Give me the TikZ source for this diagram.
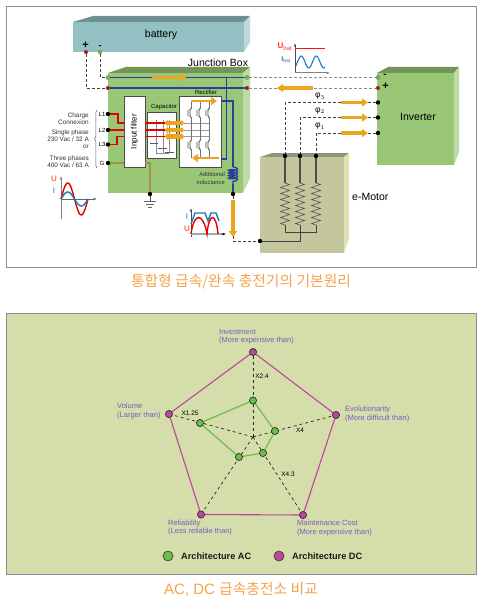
\documentclass[tikz,border=0pt]{standalone}
\usepackage{fontspec}
\setmainfont{Liberation Sans}
\newfontfamily\krfont{Noto Sans CJK KR}
\usetikzlibrary{arrows.meta,decorations.pathmorphing,decorations.pathreplacing}
\definecolor{busblue}{HTML}{27409A}
\definecolor{sigorange}{HTML}{EBA520}
\definecolor{capt}{HTML}{F7A24B}
\definecolor{labpurple}{HTML}{7A5CC0}
\definecolor{dcpink}{HTML}{B9479B}
\definecolor{acgreen}{HTML}{6CBE45}
\definecolor{jgreen}{HTML}{9AC776}
\definecolor{battcol}{HTML}{93C0C2}
\definecolor{motorcol}{HTML}{C4C69E}
\definecolor{motorside}{HTML}{E0E2B4}
\definecolor{panel}{HTML}{D5DDAB}
\begin{document}
\begin{tikzpicture}[x=1pt,y=-1pt,
  every node/.style={inner sep=0pt},
  tinylab/.style={font=\fontsize{6}{7}\selectfont},
  smalllab/.style={font=\fontsize{6.4}{7.2}\selectfont,align=right,anchor=east,text=black!80},
  axislab/.style={font=\fontsize{7.5}{8.5}\selectfont,align=left,anchor=north west,text=labpurple},
  multlab/.style={font=\fontsize{6.5}{7.5}\selectfont},
  dot/.style={circle,fill=black,minimum size=4.4pt},
  plusdot/.style={circle,fill=red!75!black,draw=black!50,minimum size=4pt},
  minusdot/.style={circle,fill=acgreen,draw=black!50,minimum size=4pt},
  bus/.style={busblue,line width=1.3pt},
  link/.style={densely dashed,black!75,line width=0.6pt},
  fatarrow/.style={sigorange,line width=3.2pt,-{Triangle[length=6pt,width=8pt]}},
  bothfat/.style={sigorange,line width=4.4pt,{Triangle[length=2.5pt,width=7pt]}-{Triangle[length=2.5pt,width=7pt]}},
  mains/.style={red!90!black,line width=1.6pt},
  plate/.style={black!65,line width=1pt},
  whitebox/.style={draw=black!70,fill=white,line width=0.7pt},
  acpt/.style={circle,draw=black!80,fill=acgreen,minimum size=7pt,line width=0.6pt},
  dcpt/.style={circle,draw=black!80,fill=dcpink,minimum size=7pt,line width=0.6pt},
  capttext/.style={font=\krfont\fontsize{14.8}{16}\selectfont,text=capt}]
\useasboundingbox (0,0) rectangle (482,607);
\fill[white] (0,0) rectangle (482,607);
\draw[black!45,line width=0.8pt] (6,6) rectangle (476,267);
\node[draw=black!45,line width=0.8pt,fill=panel,minimum width=470pt,minimum height=261pt] (panel2) at (241,443.5) {};

% solids
\fill[battcol!75!black] (73,22) -- (93,16) -- (250,16) -- (244,22) -- cycle;
\fill[battcol!60!white] (244,22) -- (250,16) -- (250,42) -- (244,52) -- cycle;
\node[fill=battcol,minimum width=171pt,minimum height=30pt] (batt) at (158.5,37) {};
\node[font=\fontsize{10.5}{12}\selectfont] at (161,35) {battery};
\fill[jgreen!75!black] (108,73) -- (126,67) -- (250,67) -- (243,73) -- cycle;
\fill[jgreen!65!white] (243,73) -- (250,67) -- (250,178) -- (243,193) -- cycle;
\node[fill=jgreen,minimum width=135pt,minimum height=120pt] (jbox) at (175.5,133) {};
\node[font=\fontsize{10.5}{12}\selectfont] (jlab) at (218,63) {Junction Box};
\fill[jgreen!75!black] (377,73) -- (388,67) -- (459,67) -- (454,73) -- cycle;
\fill[jgreen!65!white] (454,73) -- (459,67) -- (459,152) -- (454,165) -- cycle;
\node[fill=jgreen,minimum width=77pt,minimum height=92pt] (inv) at (415.5,119) {};
\node[font=\fontsize{10.5}{12}\selectfont] at (418,117) {Inverter};
\fill[motorcol!75!black] (260,157) -- (272,153) -- (349,153) -- (344,157) -- cycle;
\fill[motorside] (344,157) -- (349,153) -- (349,238) -- (344,253) -- cycle;
\node[fill=motorcol,minimum width=84pt,minimum height=96pt] (motor) at (302,205) {};
\node[anchor=west,font=\fontsize{10.5}{12}\selectfont] (mlab) at (352,197) {e-Motor};

% terminals
\node[plusdot] (batp) at (86,52) {};
\node[minusdot] (batm) at (100,52) {};
\node[font=\bfseries\fontsize{11}{10}\selectfont] at (85.5,45.5) {+};
\node[font=\bfseries\fontsize{9}{9}\selectfont] at (100,47.5) {-};
\node[minusdot] (ja) at (108,77.5) {};
\node[plusdot] (jb) at (108,88) {};
\node[minusdot] (jc) at (247,77.5) {};
\node[plusdot] (jd) at (247,88) {};
\node[minusdot] (ia) at (378,77.5) {};
\node[plusdot] (ib) at (378,88) {};
\node[font=\bfseries\fontsize{10}{10}\selectfont] at (385,75.5) {-};
\node[font=\bfseries\fontsize{11}{10}\selectfont] at (385.5,86.5) {+};
\node[dot] (ph3) at (378,102.5) {};
\node[dot] (ph2) at (378,117.5) {};
\node[dot] (ph1) at (378,133) {};
\node[dot] (m1) at (285,156) {};
\node[dot] (m2) at (300,156) {};
\node[dot] (m3) at (316,156) {};
\node[dot] (mn) at (260,241) {};
\node[dot] (lout) at (233,194) {};
\node[dot] (gnd) at (150,194) {};
\draw[link] (batm) |- (ja);
\draw[link] (batp) |- (jb);
\draw[link,black!45] (jc) -- (ia);
\draw[link,black!45] (jd) -- (ib);
\draw[link] (ph3) -| (m1);
\draw[link] (ph2) -| (m2);
\draw[link] (ph1) -| (m3);
\draw[link] (lout) |- (mn);
\draw[bus] (ja) -- (jc);
\draw[bus] (jb) -- (jd);
\draw[fatarrow] (152,77.5) -- (186,77.5);
\draw[fatarrow] (313,88) -- (277,88);
\draw[fatarrow] (341,102.5) -- (368,102.5);
\draw[fatarrow] (341,117.5) -- (368,117.5);
\draw[fatarrow] (341,133) -- (368,133);
\draw[fatarrow] (233,200) -- (233,237);
\node[font=\fontsize{8.5}{9}\selectfont] at (320,96.5) {φ$_3$};
\node[font=\fontsize{8.5}{9}\selectfont] at (320,111) {φ$_2$};
\node[font=\fontsize{8.5}{9}\selectfont] at (320,126.5) {φ$_1$};

% charger
\node[whitebox,minimum width=21pt,minimum height=71pt] (filt) at (134.5,131.5) {};
\node[rotate=90,font=\fontsize{8}{9}\selectfont] at (134.5,131.5) {Input filter};
\node[whitebox,minimum width=29pt,minimum height=46pt] (capb) at (161.5,135) {};
\node[tinylab] at (164,106.5) {Capacitor};
\node[whitebox,minimum width=42pt,minimum height=71pt] (rect) at (200,131.5) {};
\node[tinylab] at (206,92) {Rectifier};
\node[dot] (L1) at (108,114) {};
\node[dot] (L2) at (108,130) {};
\node[dot] (L3) at (108,144.5) {};
\node[dot] (G) at (108,163) {};
\node[tinylab] at (102,114.5) {L1};
\node[tinylab] at (102,130) {L2};
\node[tinylab] at (102,144.5) {L3};
\node[tinylab] at (102,163) {G};
\draw[decorate,decoration={brace,amplitude=2.5pt},black!60,line width=0.5pt] (97,168) -- (97,110);
\node[smalllab] at (89,118.5) {Charge\\Connexion};
\node[smalllab] at (89,135.5) {Single phase\\230 Vac / 32 A};
\node[smalllab] at (89,147) {or};
\node[smalllab] at (89,161.5) {Three phases\\400 Vac / 63 A};
\draw[mains] (L1) -- (118,114) |- (124,123);
\draw[mains] (L2) -- (124,130);
\draw[mains] (L3) -- (117,144.5) |- (124,136.5);
\draw[black!50!yellow!70!brown,line width=1.2pt] (G) -- (filt.south west |- G);
\draw[black!50!yellow!70!brown,line width=1.2pt] (filt.south east |- G) -| (gnd);
\draw[black!70,line width=0.7pt] (gnd) -- (150,201);
\foreach \y/\w in {201/6,204/4,207/2} \draw[black!60,line width=0.9pt] (150-\w,\y) -- (150+\w,\y);
% capacitor and rectifier innards
\foreach \x in {156,163,169} \draw[black!45,line width=0.6pt] (\x,120) -- (\x,153);
\draw[black!45,line width=0.6pt] (156,153) -- (169,153);
\draw[plate] (150,143) -- (158,143);
\draw[plate] (158,148) -- (167,148);
\draw[plate] (165,152) -- (174,152);
\foreach \y in {123,130,136.5} {
  \draw[red!90!black,line width=1.2pt] (filt.east |- 0,\y) -- (166,\y);
  \draw[black!40,line width=0.6pt] (184,\y) -- (209,\y);
  \draw[bothfat] (165,\y) -- (184,\y);
}
\foreach \x in {191,200,209} {
  \draw[black!55,line width=0.6pt] (\x,101) -- (\x,158);
  \foreach \y in {113,145} {
    \draw[white,line width=1.5pt] (\x,\y-4) -- (\x,\y+4);
    \draw[black!70,line width=0.6pt] (\x-1,\y-4) -- (\x-1,\y+4) (\x-3,\y-3) -- (\x-3,\y+3) (\x-1,\y-2) -- (\x,\y-5) (\x-1,\y+2) -- (\x,\y+5);
  }
}
\draw[fatarrow,line width=2.4pt] (191,101) -- (217,101);
\draw[fatarrow,line width=2.8pt] (219,158) -- (192,158);
\draw[bus] (226.5,77.5) |- (221,159);
\draw[bus] (221,101) -| (233,167);
\draw[bus,decorate,decoration={coil,amplitude=4.5pt,segment length=2.6pt,aspect=0.3}] (233,167) -- (233,184);
\draw[bus] (233,184) -- (lout);
\node[smalllab,font=\fontsize{5.8}{7.5}\selectfont] at (225,178.5) {Additional\\inductance};

% motor windings
\foreach \n/\x in {m1/285,m2/300,m3/316} {
  \draw[black!70,line width=1.1pt] (\n) -- (\x,183);
  \draw[black!70,line width=0.6pt,decorate,decoration={zigzag,amplitude=4.5pt,segment length=6pt}] (\x,183) -- (\x,225);
}
\draw[black!75,line width=0.9pt] (285,225) -- (285,232) -- (316,232) -- (316,225);
\draw[black!75,line width=0.9pt] (300,225) |- (mn);

% small plots
\draw[black!70,line width=0.8pt,{Latex[length=3.5pt]}-] (295,43) -- (295,73);
\draw[black!50,line width=1pt,-{Latex[length=3.5pt]}] (295,73) -- (330,73);
\draw[red!85!orange,line width=1.2pt] (295,48.5) -- (325,48.5);
\draw[busblue!70!cyan,line width=1.1pt] plot[domain=0:30,samples=40,smooth] ({295+\x},{63-6*sin(\x*24-60)-1});
\node[text=red!80,font=\bfseries\fontsize{8}{9}\selectfont] at (285,47) {U$_{\mathrm{bat}}$};
\node[text=busblue!80,font=\bfseries\fontsize{7}{9}\selectfont] at (286,60) {I$_{\mathrm{bat}}$};
\draw[black!50,line width=0.7pt,{Latex[length=3.5pt]}-] (61,176) -- (61,219);
\draw[black!60,line width=0.7pt,-{Latex[length=3.5pt]}] (61,199) -- (97,199);
\draw[red!90!black,line width=1.4pt] plot[domain=0:27,samples=40,smooth] ({61+\x},{199-16*sin(\x*13.33)});
\draw[busblue!70!cyan,line width=1.4pt] plot[domain=0:27,samples=40,smooth] ({61+\x},{199-7*sin(\x*13.33)});
\node[text=red!70!orange,font=\fontsize{8}{9}\selectfont] at (54,179) {U};
\node[text=busblue!70!cyan,font=\fontsize{8}{9}\selectfont] at (54,191) {I};
\draw[black!70,line width=0.7pt,{Latex[length=3.5pt]}-] (191,208) -- (191,237);
\draw[black!35,line width=1.3pt] (191,234) -- (222,234);
\draw[black,line width=0.5pt,-{Latex[length=3.5pt]}] (222,234) -- (226,234);
\draw[busblue!70!cyan,line width=1.4pt] (191,224) -- (195,213) -- (205,213) -- (208,221) -- (211,213) -- (216,213) -- (219,221);
\draw[red!90!black,line width=1.4pt] (191,234) .. controls (194,212) and (203,212) .. (207,234) .. controls (209,212) and (216,212) .. (218,234);
\node[text=busblue!70!cyan,font=\fontsize{8}{9}\selectfont] at (187,217) {I};
\node[text=red!70!orange,font=\fontsize{8}{9}\selectfont] at (187,229) {U};

\node[capttext] (capt1) at (241,282) {통합형 급속/완속 충전기의 기본원리};

% radar chart
\coordinate (ctr) at (253,437);
\node[dcpt] (dcinv) at (253,352) {};
\node[dcpt] (dcevo) at (336,415) {};
\node[dcpt] (dcmnt) at (303,515) {};
\node[dcpt] (dcrel) at (201,514.5) {};
\node[dcpt] (dcvol) at (169,414) {};
\node[acpt] (acinv) at (253,400.5) {};
\node[acpt] (acevo) at (275,431) {};
\node[acpt] (acmnt) at (263,453) {};
\node[acpt] (acrel) at (239,457) {};
\node[acpt] (acvol) at (200,423) {};
\foreach \n in {inv,evo,mnt,rel,vol} \draw[dashed,black!85,line width=0.7pt] (ctr) -- (dc\n);
\foreach \a/\b in {inv/evo,evo/mnt,mnt/rel,rel/vol,vol/inv} {
  \draw[dcpink,line width=1.1pt] (dc\a) -- (dc\b);
  \draw[acgreen,line width=1.2pt] (ac\a) -- (ac\b);
}
\foreach \n in {inv,evo,mnt,rel,vol} {
  \node[dcpt] at (dc\n) {};
  \node[acpt] at (ac\n) {};
}
\node[axislab] at (219,329) {Investment\\(More expensive than)};
\node[axislab] at (117,403) {Volume\\(Larger than)};
\node[axislab] at (345,406) {Evolutionarity\\(More difficult than)};
\node[axislab] at (168,519.5) {Reliability\\(Less reliable than)};
\node[axislab] at (297,520) {Maintenance Cost\\(More expensive than)};
\node[multlab] at (262,376) {X2.4};
\node[multlab] at (190,413) {X1.25};
\node[multlab] at (300,430) {X4};
\node[multlab] at (288,474) {X4.3};
\node[acpt,minimum size=10pt] (legac) at (168,556) {};
\node[dcpt,minimum size=10pt] (legdc) at (279,556) {};
\node[anchor=west,font=\bfseries\fontsize{9.2}{11}\selectfont,text=black!90] at (181,556) {Architecture AC};
\node[anchor=west,font=\bfseries\fontsize{9.2}{11}\selectfont,text=black!90] at (292,556) {Architecture DC};
\node[capttext] (capt2) at (241,589) {{\rmfamily\fontsize{15}{16}\selectfont AC, DC }급속충전소 비교};
\end{tikzpicture}
\end{document}
